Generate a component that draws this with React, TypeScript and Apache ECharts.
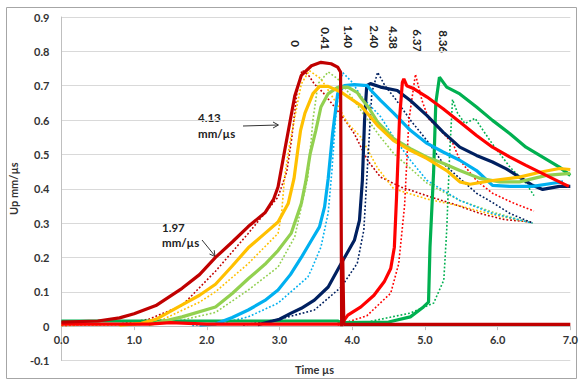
import React, { useEffect, useRef } from 'react';
import * as echarts from 'echarts';

// ---- data: [time µs, particle velocity mm/µs] ----
const darkRedSolid = [[0,0.012],[0.5,0.015],[0.8,0.024],[1.0,0.036],[1.3,0.06],[1.66,0.11],[1.9,0.15],[2.12,0.2],[2.35,0.245],[2.57,0.29],[2.8,0.33],[2.92,0.37],[2.98,0.405],[3.07,0.51],[3.14,0.59],[3.21,0.67],[3.3,0.73],[3.44,0.758],[3.57,0.768],[3.71,0.764],[3.8,0.754],[3.84,0.74],[3.855,0.0],[3.87,0.2],[3.885,0.005],[7.0,0.005]];
const orangeSolid = [[0.8,0.003],[1.1,0.008],[1.3,0.02],[1.66,0.062],[1.9,0.09],[2.12,0.122],[2.35,0.175],[2.57,0.228],[2.8,0.27],[2.98,0.303],[3.12,0.357],[3.2,0.43],[3.25,0.51],[3.29,0.57],[3.35,0.62],[3.46,0.677],[3.55,0.698],[3.67,0.698],[3.85,0.681],[4.12,0.642],[4.35,0.584],[4.57,0.54],[4.8,0.512],[5.03,0.488],[5.3,0.453],[5.48,0.42],[5.62,0.413],[5.93,0.424],[6.3,0.434],[6.58,0.448],[6.85,0.459],[7.0,0.456]];
const lightGreenSolid = [[1.2,0.004],[1.66,0.027],[2.12,0.056],[2.35,0.095],[2.57,0.138],[2.8,0.18],[2.98,0.22],[3.16,0.27],[3.3,0.357],[3.36,0.42],[3.42,0.5],[3.5,0.57],[3.57,0.638],[3.67,0.677],[3.8,0.695],[3.94,0.696],[4.07,0.68],[4.12,0.665],[4.23,0.635],[4.35,0.594],[4.57,0.546],[4.8,0.517],[5.03,0.492],[5.25,0.474],[5.48,0.453],[5.76,0.43],[6.03,0.42],[6.3,0.42],[6.67,0.439],[7.0,0.445]];
const lightBlueSolid = [[1.9,0.003],[2.12,0.006],[2.35,0.025],[2.57,0.047],[2.8,0.075],[2.98,0.105],[3.15,0.15],[3.3,0.2],[3.44,0.25],[3.55,0.289],[3.62,0.347],[3.67,0.43],[3.73,0.56],[3.8,0.677],[3.89,0.7],[4.03,0.703],[4.21,0.7],[4.26,0.686],[4.39,0.657],[4.57,0.62],[4.8,0.57],[5.03,0.532],[5.25,0.507],[5.48,0.483],[5.71,0.453],[5.93,0.41],[6.17,0.407],[6.48,0.407],[6.76,0.416],[6.9,0.42]];
const navySolid = [[2.7,0.004],[3.0,0.02],[3.16,0.038],[3.3,0.052],[3.48,0.076],[3.67,0.114],[3.85,0.183],[4.03,0.25],[4.1,0.308],[4.14,0.424],[4.17,0.6],[4.2,0.7],[4.25,0.706],[4.39,0.696],[4.62,0.686],[4.8,0.657],[5.03,0.613],[5.25,0.565],[5.48,0.521],[5.71,0.497],[5.93,0.478],[6.12,0.458],[6.3,0.434],[6.48,0.41],[6.62,0.398],[6.85,0.407],[7.0,0.407]];
const redSolid = [[0,0.006],[1.2,0.006],[1.5,0.01],[2.0,0.006],[3.0,0.006],[3.85,0.006],[3.94,0.032],[4.12,0.056],[4.3,0.09],[4.44,0.129],[4.53,0.168],[4.58,0.23],[4.61,0.376],[4.65,0.6],[4.69,0.71],[4.71,0.72],[4.75,0.7],[4.85,0.691],[5.03,0.667],[5.25,0.633],[5.48,0.594],[5.71,0.555],[5.93,0.521],[6.17,0.492],[6.39,0.468],[6.62,0.444],[6.85,0.42],[6.98,0.407]];
const greenSolid = [[0,0.015],[2.0,0.015],[3.8,0.015],[3.85,0.01],[4.5,0.012],[4.8,0.027],[4.98,0.056],[5.05,0.07],[5.07,0.23],[5.12,0.45],[5.15,0.65],[5.2,0.725],[5.3,0.696],[5.48,0.676],[5.71,0.638],[5.93,0.599],[6.17,0.56],[6.39,0.521],[6.62,0.492],[6.85,0.463],[7.0,0.439]];

const darkRedDotted = [[0,0.002],[0.8,0.006],[1.2,0.02],[1.66,0.06],[2.12,0.16],[2.57,0.27],[2.98,0.376],[3.1,0.45],[3.17,0.55],[3.24,0.68],[3.31,0.745],[3.4,0.73],[3.48,0.705],[3.6,0.68],[3.75,0.64],[3.9,0.6],[4.03,0.56],[4.21,0.483],[4.39,0.434],[4.67,0.405],[5.08,0.376],[5.4,0.355],[5.76,0.328],[6.1,0.31],[6.48,0.303]];
const orangeDotted = [[0,0.002],[1.0,0.004],[1.4,0.02],[1.9,0.07],[2.12,0.1],[2.57,0.182],[2.98,0.27],[3.03,0.33],[3.07,0.434],[3.14,0.53],[3.21,0.608],[3.3,0.705],[3.41,0.744],[3.57,0.72],[3.76,0.657],[3.94,0.59],[4.12,0.55],[4.35,0.46],[4.57,0.4],[5.03,0.37],[5.48,0.35],[5.93,0.325],[6.48,0.3]];
const lightGreenDotted = [[0.8,0.002],[1.5,0.01],[2.12,0.04],[2.57,0.105],[2.98,0.172],[3.21,0.26],[3.32,0.366],[3.39,0.434],[3.46,0.6],[3.53,0.706],[3.67,0.74],[3.8,0.72],[3.95,0.68],[4.12,0.628],[4.39,0.55],[4.57,0.503],[5.03,0.416],[5.48,0.366],[5.93,0.332],[6.48,0.3]];
const lightBlueDotted = [[1.8,0.002],[2.2,0.008],[2.57,0.027],[2.98,0.067],[3.39,0.143],[3.44,0.165],[3.57,0.23],[3.67,0.33],[3.72,0.45],[3.77,0.6],[3.82,0.7],[3.87,0.738],[4.0,0.71],[4.12,0.67],[4.39,0.61],[4.57,0.55],[4.8,0.483],[5.03,0.424],[5.48,0.366],[5.93,0.328],[6.48,0.3]];
const navyDotted = [[2.5,0.003],[3.0,0.02],[3.48,0.047],[3.85,0.114],[4.07,0.183],[4.16,0.28],[4.22,0.5],[4.27,0.68],[4.35,0.739],[4.45,0.7],[4.6,0.66],[4.8,0.6],[5.03,0.54],[5.25,0.474],[5.48,0.43],[5.71,0.387],[5.93,0.36],[6.17,0.328],[6.48,0.3]];
const redDotted = [[3.8,0.003],[4.2,0.03],[4.53,0.096],[4.64,0.182],[4.72,0.35],[4.78,0.6],[4.87,0.733],[4.96,0.657],[5.05,0.604],[5.17,0.58],[5.39,0.53],[5.48,0.483],[5.71,0.424],[5.93,0.387],[6.2,0.36],[6.5,0.335]];
const greenDotted = [[4.0,0.003],[4.8,0.038],[5.12,0.067],[5.26,0.134],[5.3,0.28],[5.34,0.5],[5.38,0.66],[5.45,0.62],[5.55,0.59],[5.69,0.605],[5.8,0.57],[5.93,0.53],[6.17,0.463],[6.39,0.416],[6.5,0.38]];

// rotated labels at top (text only)
const topLabels = ['0', '0.41', '1.40', '2.40', '4.38', '6.37', '8.36'];
const annotation1 = ['4.13', 'mm/\u00b5s'];
const annotation2 = ['1.97', 'mm/\u00b5s'];

// layout (pixels) kept apart from data
const topLabelPos = [[295, 47], [325, 50], [348.5, 48], [374, 48], [393, 49], [417, 52], [443.5, 53]];

const FONT = 'Lato, "Open Sans", "Noto Sans", sans-serif';

const COLORS = {
  darkRed: '#C00000',
  orange: '#FFC000',
  lightGreen: '#92D050',
  lightBlue: '#00B0F0',
  navy: '#002060',
  red: '#FF0000',
  green: '#00B050',
};

function solid(name: string, color: string, data: number[][], z = 3) {
  return {
    name, type: 'line', data, symbol: 'none', showSymbol: false, z,
    lineStyle: { width: 3.2, color }, itemStyle: { color }, silent: true,
  };
}
function dotted(name: string, color: string, data: number[][]) {
  return {
    name, type: 'line', data, symbol: 'none', showSymbol: false, z: 2,
    lineStyle: { width: 1.6, color, type: [1.8, 2] }, itemStyle: { color }, silent: true,
  };
}

const GRID_TOP = 17;
const GRID_BOTTOM = 20.5;
const CHART_H = 381;
const Y_MIN = -0.1;
const Y_MAX = 0.9;

export default function App() {
  const ref = useRef<HTMLDivElement>(null);
  useEffect(() => {
    const chart = echarts.init(ref.current!, null, { renderer: 'svg' });
    const textStyleBold = { fontFamily: FONT, fontWeight: 'bold', fontSize: 11, color: '#333' };
    // shift the x axis from the grid bottom up to the y = 0 level
    const plotH = CHART_H - GRID_TOP - GRID_BOTTOM;
    const zeroOffset = -plotH * (0 - Y_MIN) / (Y_MAX - Y_MIN);
    const graphic: any[] = [
      { type: 'rect', shape: { x: 6.5, y: 7.5, width: 570, height: 371 }, style: { fill: 'none', stroke: '#a6a6a6', lineWidth: 1 }, z: 0 },
      { type: 'text', x: 314.5, y: 369, style: { text: 'Time \u00b5s', font: `bold 11px ${FONT}`, fill: '#333', align: 'center', verticalAlign: 'middle' } },
      ...topLabels.map((t, i) => ({
        type: 'text', x: topLabelPos[i][0], y: topLabelPos[i][1], rotation: -Math.PI / 2,
        style: { text: t, font: `bold 11.5px ${FONT}`, fill: '#222', align: 'right', verticalAlign: 'middle' },
      })),
      { type: 'text', x: 198, y: 117, style: { text: annotation1[0], font: `bold 11.5px ${FONT}`, fill: '#222', align: 'left', verticalAlign: 'middle' } },
      { type: 'text', x: 198, y: 133, style: { text: annotation1[1], font: `bold 11.5px ${FONT}`, fill: '#222', align: 'left', verticalAlign: 'middle' } },
      { type: 'text', x: 162, y: 227, style: { text: annotation2[0], font: `bold 11.5px ${FONT}`, fill: '#222', align: 'left', verticalAlign: 'middle' } },
      { type: 'text', x: 162, y: 242, style: { text: annotation2[1], font: `bold 11.5px ${FONT}`, fill: '#222', align: 'left', verticalAlign: 'middle' } },
      { type: 'line', shape: { x1: 243, y1: 126, x2: 278, y2: 125 }, style: { stroke: '#333', lineWidth: 1 } },
      { type: 'polyline', shape: { points: [[273, 122], [278.5, 125], [273, 128]] }, style: { stroke: '#333', lineWidth: 1, fill: 'none' } },
      { type: 'line', shape: { x1: 202, y1: 240, x2: 215, y2: 256 }, style: { stroke: '#333', lineWidth: 1 } },
      { type: 'polyline', shape: { points: [[209.5, 254], [215, 256.5], [214.2, 250.2]] }, style: { stroke: '#333', lineWidth: 1, fill: 'none' } },
    ];
    chart.setOption({
      animation: false,
      backgroundColor: '#fff',
      grid: { left: 58, right: 10, top: GRID_TOP, bottom: GRID_BOTTOM, containLabel: false },
      xAxis: {
        type: 'value', min: 0, max: 7, interval: 1,
        offset: zeroOffset,
        axisLine: { show: true, onZero: false, lineStyle: { color: '#bfbfbf', width: 1 } },
        axisTick: { show: true, length: 4, lineStyle: { color: '#bfbfbf' } },
        axisLabel: { ...textStyleBold, margin: 8, formatter: (v: number) => v.toFixed(1) },
        splitLine: { show: false },
      },
      yAxis: {
        type: 'value', min: Y_MIN, max: Y_MAX, interval: 0.1,
        name: 'Up mm/\u00b5s', nameLocation: 'middle', nameGap: 35,
        nameTextStyle: { fontFamily: FONT, fontWeight: 'bold', fontSize: 11, color: '#333' },
        axisLine: { show: true, onZero: false, lineStyle: { color: '#bfbfbf', width: 1 } },
        axisTick: { show: false },
        axisLabel: { ...textStyleBold, margin: 12, formatter: (v: number) => (Math.abs(v) < 1e-9 ? '0' : v.toFixed(1)) },
        splitLine: { show: true, lineStyle: { color: '#d9d9d9', width: 1 } },
      },
      series: [
        dotted('dark red (calc)', COLORS.darkRed, darkRedDotted),
        dotted('orange (calc)', COLORS.orange, orangeDotted),
        dotted('light green (calc)', COLORS.lightGreen, lightGreenDotted),
        dotted('light blue (calc)', COLORS.lightBlue, lightBlueDotted),
        dotted('navy (calc)', COLORS.navy, navyDotted),
        dotted('red (calc)', COLORS.red, redDotted),
        dotted('green (calc)', COLORS.green, greenDotted),
        solid('green', COLORS.green, greenSolid, 3),
        solid('navy', COLORS.navy, navySolid, 4),
        solid('light blue', COLORS.lightBlue, lightBlueSolid, 4),
        solid('light green', COLORS.lightGreen, lightGreenSolid, 5),
        solid('orange', COLORS.orange, orangeSolid, 6),
        solid('red', COLORS.red, redSolid, 7),
        solid('dark red', COLORS.darkRed, darkRedSolid, 8),
      ],
      graphic,
    });
    return () => chart.dispose();
  }, []);
  return <div ref={ref} style={{ position: 'fixed', left: 0, top: 0, width: 581, height: 381, background: '#fff' }} />;
}
